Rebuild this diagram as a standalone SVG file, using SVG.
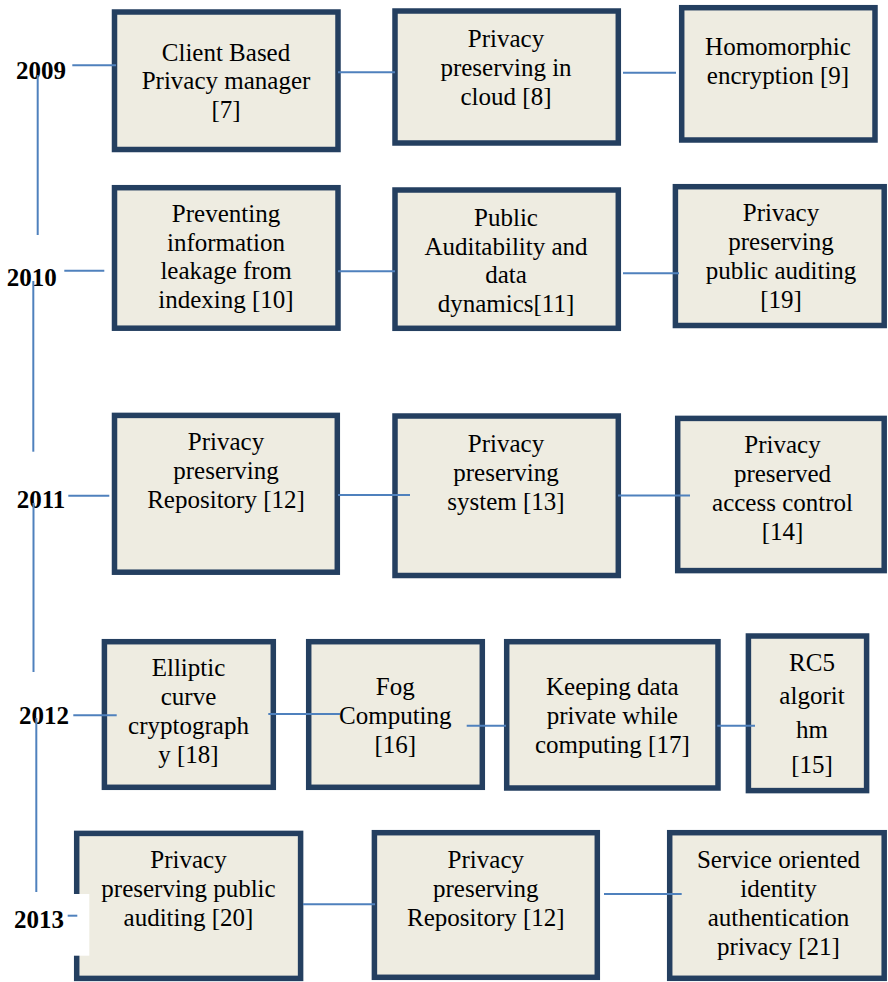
<svg xmlns="http://www.w3.org/2000/svg" width="888" height="982" viewBox="0 0 888 982">
<style>
.box{fill:#EEECE1;stroke:#243F60;stroke-width:5.5}
.t{font-family:"Liberation Serif","Times New Roman",serif;font-size:25px;fill:#000;text-anchor:middle}
.y{font-family:"Liberation Serif","Times New Roman",serif;font-size:25px;font-weight:bold;fill:#000}
.c{stroke:#4F81BD;stroke-width:2;fill:none}
</style>
<rect width="888" height="982" fill="#fff"/>
<g id="nodes">
<g id="n7"><rect class="box" x="114.5" y="12" width="223.5" height="137.5"/>
<text class="t" x="226"><tspan x="226" y="60.7">Client Based</tspan><tspan x="226" y="89.3">Privacy manager</tspan><tspan x="226" y="118">[7]</tspan></text></g>
<g id="n8"><rect class="box" x="395" y="11" width="223.3" height="132"/>
<text class="t"><tspan x="506" y="46.7">Privacy</tspan><tspan x="506" y="76">preserving in</tspan><tspan x="506" y="104.5">cloud [8]</tspan></text></g>
<g id="n9"><rect class="box" x="681.7" y="7.7" width="193.3" height="132.3"/>
<text class="t"><tspan x="778" y="55">Homomorphic</tspan><tspan x="778" y="84">encryption [9]</tspan></text></g>
<g id="n10"><rect class="box" x="114.5" y="187.7" width="223.5" height="140.5"/>
<text class="t"><tspan x="226" y="221.7">Preventing</tspan><tspan x="226" y="250.5">information</tspan><tspan x="226" y="279.3">leakage from</tspan><tspan x="226" y="308.3">indexing [10]</tspan></text></g>
<g id="n11"><rect class="box" x="395" y="190" width="223.3" height="138.3"/>
<text class="t"><tspan x="506" y="225.7">Public</tspan><tspan x="506" y="254.5">Auditability and</tspan><tspan x="506" y="283.3">data</tspan><tspan x="506" y="312.3">dynamics[11]</tspan></text></g>
<g id="n19"><rect class="box" x="675.4" y="186.7" width="208.8" height="138.8"/>
<text class="t"><tspan x="781" y="220.7">Privacy</tspan><tspan x="781" y="249.5">preserving</tspan><tspan x="781" y="278.5">public auditing</tspan><tspan x="781" y="307.5">[19]</tspan></text></g>
<g id="n12a"><rect class="box" x="114.5" y="415.4" width="222.8" height="156.8"/>
<text class="t"><tspan x="226" y="450">Privacy</tspan><tspan x="226" y="479">preserving</tspan><tspan x="226" y="508.3">Repository [12]</tspan></text></g>
<g id="n13"><rect class="box" x="395" y="416" width="223.3" height="159.5"/>
<text class="t"><tspan x="506" y="451.7">Privacy</tspan><tspan x="506" y="481">preserving</tspan><tspan x="506" y="510">system [13]</tspan></text></g>
<g id="n14"><rect class="box" x="677.7" y="418.4" width="206.5" height="152.2"/>
<text class="t"><tspan x="782.5" y="453.3">Privacy</tspan><tspan x="782.5" y="481.7">preserved</tspan><tspan x="782.5" y="511">access control</tspan><tspan x="782.5" y="540">[14]</tspan></text></g>
<g id="n18"><rect class="box" x="104.4" y="641.7" width="168.9" height="145.6"/>
<text class="t"><tspan x="188.5" y="676">Elliptic</tspan><tspan x="188.5" y="705">curve</tspan><tspan x="188.5" y="734.3">cryptograph</tspan><tspan x="188.5" y="763.3">y [18]</tspan></text></g>
<g id="n16"><rect class="box" x="308.7" y="641.7" width="173.6" height="145.6"/>
<text class="t"><tspan x="395.3" y="695">Fog</tspan><tspan x="395.3" y="724">Computing</tspan><tspan x="395.3" y="753">[16]</tspan></text></g>
<g id="n17"><rect class="box" x="506.7" y="641.7" width="211.3" height="146.3"/>
<text class="t"><tspan x="612.3" y="695">Keeping data</tspan><tspan x="612.3" y="724">private while</tspan><tspan x="612.3" y="753">computing [17]</tspan></text></g>
<g id="n15"><rect class="box" x="748.4" y="636" width="118.2" height="154.6"/>
<text class="t"><tspan x="812" y="670.7">RC5</tspan><tspan x="812" y="704">algorit</tspan><tspan x="812" y="737.7">hm</tspan><tspan x="812" y="772.5">[15]</tspan></text></g>
<g id="n20"><rect class="box" x="76.7" y="833.4" width="223.9" height="145"/>
<text class="t"><tspan x="188.5" y="868.3">Privacy</tspan><tspan x="188.5" y="896.7">preserving public</tspan><tspan x="188.5" y="926">auditing [20]</tspan></text></g>
<g id="n12b"><rect class="box" x="374.4" y="832.7" width="222.9" height="144.6"/>
<text class="t"><tspan x="485.8" y="867.7">Privacy</tspan><tspan x="485.8" y="896.7">preserving</tspan><tspan x="485.8" y="926">Repository [12]</tspan></text></g>
<g id="n21"><rect class="box" x="669.7" y="832.7" width="214.5" height="145.6"/>
<text class="t"><tspan x="778.5" y="868.3">Service oriented</tspan><tspan x="778.5" y="896.7">identity</tspan><tspan x="778.5" y="926">authentication</tspan><tspan x="778.5" y="955">privacy [21]</tspan></text></g>
</g>
<g id="year-labels">
<rect x="10" y="894" width="79.3" height="61.7" fill="#fff"/>
<text class="y" x="16" y="79">2009</text>
<text class="y" x="6.7" y="286">2010</text>
<text class="y" x="16.7" y="508">2011</text>
<text class="y" x="19" y="724">2012</text>
<text class="y" x="14" y="928">2013</text>
</g>
<g id="connectors">
<line class="c" x1="37.7" y1="75" x2="37.7" y2="235"/>
<line class="c" x1="33.3" y1="281" x2="33.3" y2="451.7"/>
<line class="c" x1="33.5" y1="503" x2="33.5" y2="672"/>
<line class="c" x1="36.3" y1="718" x2="36.3" y2="892"/>
<line class="c" x1="72.3" y1="65.3" x2="116" y2="65.3"/>
<line class="c" x1="64.3" y1="270.7" x2="104.3" y2="270.7"/>
<line class="c" x1="68.3" y1="495.7" x2="109.3" y2="495.7"/>
<line class="c" x1="73.3" y1="715.3" x2="116.7" y2="715.3"/>
<line class="c" x1="67.7" y1="915.7" x2="77.3" y2="915.7"/>
<line class="c" x1="338" y1="72.3" x2="395" y2="72.3"/>
<line class="c" x1="623" y1="72.7" x2="676" y2="72.7"/>
<line class="c" x1="338" y1="271.3" x2="395" y2="271.3"/>
<line class="c" x1="623" y1="273.3" x2="679" y2="273.3"/>
<line class="c" x1="338" y1="495" x2="410" y2="495"/>
<line class="c" x1="618" y1="495.5" x2="690" y2="495.5"/>
<line class="c" x1="268.3" y1="714" x2="340" y2="714"/>
<line class="c" x1="466.7" y1="725.7" x2="506" y2="725.7"/>
<line class="c" x1="717.3" y1="725.7" x2="755" y2="725.7"/>
<line class="c" x1="303" y1="904.3" x2="375" y2="904.3"/>
<line class="c" x1="604" y1="894" x2="681.7" y2="894"/>
</g>
</svg>
